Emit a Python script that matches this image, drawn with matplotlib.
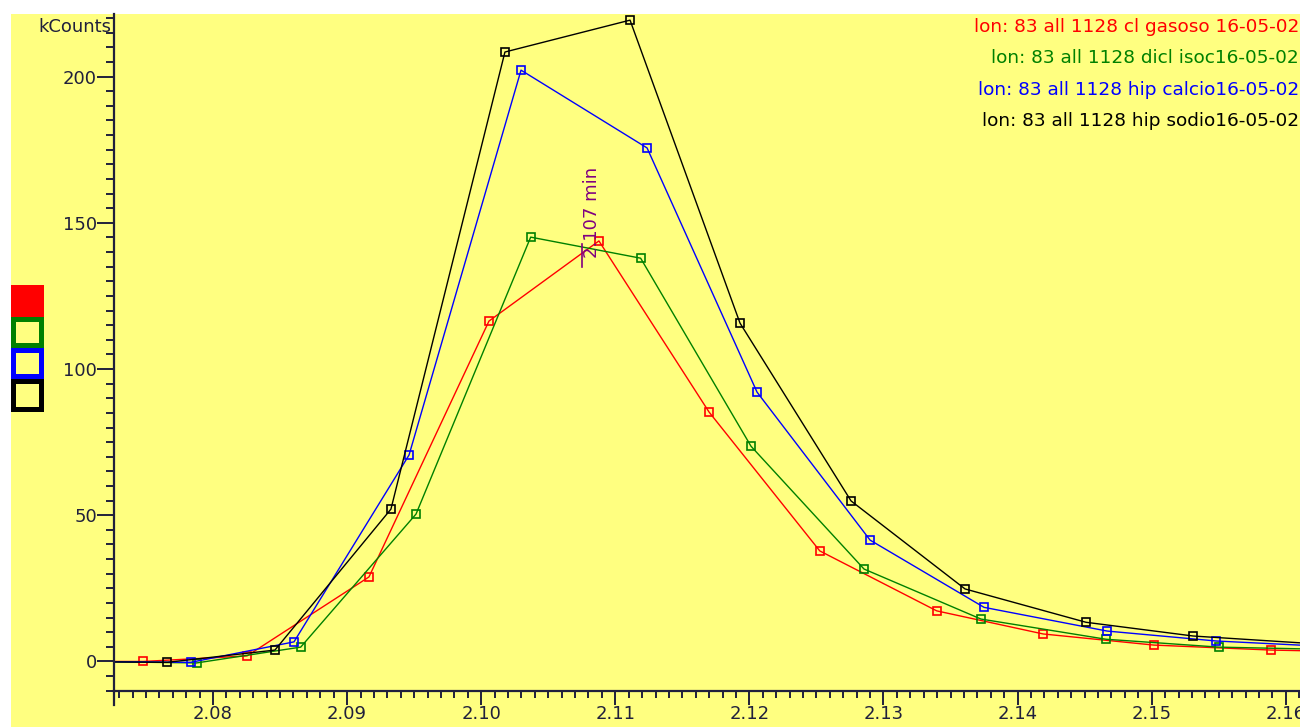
import matplotlib
matplotlib.use("Agg")
import matplotlib.pyplot as plt
from matplotlib.ticker import MultipleLocator, FormatStrFormatter
from matplotlib.patches import Rectangle
from matplotlib.lines import Line2D

# ---------------- data ----------------
series_names = [
    "lon: 83 all 1128 cl gasoso 16-05-02",
    "lon: 83 all 1128 dicl isoc16-05-02",
    "lon: 83 all 1128 hip calcio16-05-02",
    "lon: 83 all 1128 hip sodio16-05-02",
]
series_colors = ["#ff0000", "#008000", "#0000ff", "#000000"]

red_x = [2.0665, 2.07478, 2.08254, 2.09163, 2.10058, 2.10878, 2.11699, 2.12525,
         2.13397, 2.14191, 2.15017, 2.15889, 2.1672]
red_y = [0.0, 0.0, 1.9, 28.9, 116.4, 143.8, 85.3, 37.8, 17.3, 9.4, 5.6, 3.9, 3.1]

green_x = [2.0705, 2.07878, 2.08654, 2.09514, 2.10369, 2.11189, 2.12012, 2.12855,
           2.13727, 2.14659, 2.15502, 2.1634]
green_y = [0.0, -0.5, 4.9, 50.4, 145.1, 137.9, 73.6, 31.6, 14.5, 7.6, 4.9, 4.1]

blue_x = [2.0700, 2.07834, 2.08604, 2.09462, 2.10297, 2.11237, 2.12057, 2.12900,
          2.13750, 2.14667, 2.15480, 2.1632]
blue_y = [0.0, -0.3, 6.7, 70.6, 202.2, 175.6, 92.1, 41.5, 18.5, 10.4, 7.0, 5.1]

black_x = [2.0683, 2.07659, 2.08462, 2.09327, 2.10177, 2.11110, 2.11930, 2.12758,
           2.13608, 2.14510, 2.15310, 2.1620]
black_y = [0.0, -0.3, 3.9, 52.1, 208.4, 219.3, 115.7, 54.9, 24.8, 13.4, 8.7, 6.1]

peak_time = 2.1075
peak_label = "2.107 min"
y_label = "kCounts"

# ---------------- style ----------------
YELLOW = "#ffff80"
AXC = "#20203c"
W, H = 1300, 727

fig = plt.figure(figsize=(13, 7.27), dpi=100)
fig.patch.set_facecolor("white")
fig.patches.append(Rectangle((11 / W, 0), 1 - 11 / W, 1 - 14 / H, transform=fig.transFigure,
                             facecolor=YELLOW, edgecolor="none", zorder=-10))

ax = fig.add_axes([114.3 / W, 1 - 691 / H, 1 - 114.3 / W, (691 - 14) / H])
ax.set_facecolor("none")

xs = [red_x, green_x, blue_x, black_x]
ys = [red_y, green_y, blue_y, black_y]
for x, y, c in zip(xs, ys, series_colors):
    ax.plot(x, y, color=c, lw=1.0, marker="s", ms=6, mfc="none", mec=c, mew=1.2)

ax.set_xlim(2.07264, 2.16106)
ax.set_ylim(-10.1, 221.4)

for s in ["top", "right"]:
    ax.spines[s].set_visible(False)
for s in ["left", "bottom"]:
    ax.spines[s].set_color(AXC)
    ax.spines[s].set_linewidth(1.6)

ax.xaxis.set_major_locator(MultipleLocator(0.01))
ax.xaxis.set_minor_locator(MultipleLocator(0.001))
ax.xaxis.set_major_formatter(FormatStrFormatter("%.2f"))
ax.yaxis.set_major_locator(MultipleLocator(50))
ax.yaxis.set_minor_locator(MultipleLocator(5))
ax.tick_params(axis="both", which="both", colors=AXC, width=1.4, direction="out",
               labelsize=13, labelcolor=AXC)
ax.tick_params(axis="x", which="major", length=10, pad=0)
ax.tick_params(axis="x", which="minor", length=5)
ax.tick_params(axis="y", which="major", length=12.5, pad=0)
ax.tick_params(axis="y", which="minor", length=6)

# corner tick at left end of x axis
ax.add_line(Line2D([0, 0], [0, -14 / 677], transform=ax.transAxes, color=AXC, lw=1.6,
                   clip_on=False))

# y-axis unit label
fig.text(111 / W, 1 - 27 / H, y_label, ha="right", va="center", fontsize=13, color=AXC)

# series labels (top right)
label_y = [27, 58, 90, 121]
for name, c, yy in zip(series_names, series_colors, label_y):
    fig.text(1299 / W, 1 - yy / H, name, ha="right", va="center", fontsize=13.3, color=c)

# colour boxes on the left
box_top = [285, 317, 348, 379]
box_h = [32, 31, 31, 33]
for i, (c, t, h) in enumerate(zip(series_colors, box_top, box_h)):
    fig.patches.append(Rectangle((11 / W, 1 - (t + h) / H), 33 / W, h / H,
                                 transform=fig.transFigure, facecolor=c, edgecolor="none"))
    if i > 0:
        b = 5
        fig.patches.append(Rectangle(((11 + b) / W, 1 - (t + h - b) / H), (33 - 2 * b) / W,
                                     (h - 2 * b) / H, transform=fig.transFigure,
                                     facecolor=YELLOW, edgecolor="none"))

# peak annotation
ax.plot([peak_time, peak_time], [134.9, 142.7], color="#800080", lw=1.2)
ax.text(peak_time + 0.0008, 138.0, peak_label, rotation=90, ha="center", va="bottom",
        fontsize=13, color="#800080")

fig.savefig("out.png", dpi=100, facecolor="white")
